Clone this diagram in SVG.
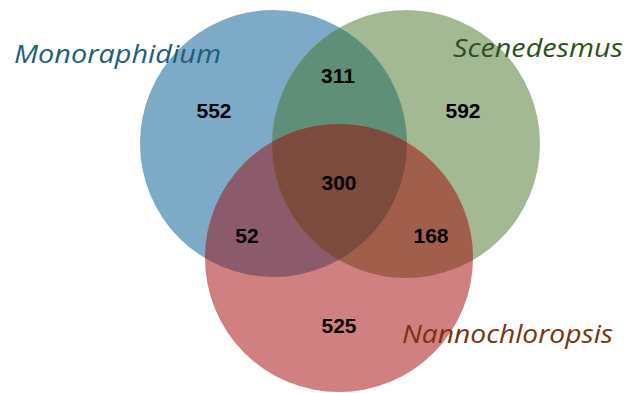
<svg xmlns="http://www.w3.org/2000/svg" width="627" height="393" viewBox="0 0 627 393">
<style>
.lbl{font-family:"Open Sans","Noto Sans",sans-serif;font-style:italic;font-size:25px}
.num{font-family:"Liberation Sans",Arial,sans-serif;font-weight:bold;font-size:21px;fill:#000;text-anchor:middle}
</style>
<defs>
<clipPath id="cB"><circle cx="273.5" cy="143.5" r="133.5"/></clipPath>
<clipPath id="cG"><circle cx="406" cy="144" r="134"/></clipPath>
</defs>
<rect width="627" height="393" fill="#fff"/>
<g id="monoraphidium">
<circle cx="273.5" cy="143.5" r="133.5" fill="#7DABC7"/>
</g>
<g id="scenedesmus">
<circle cx="406" cy="144" r="134" fill="#A3B993"/>
<circle cx="406" cy="144" r="134" fill="#608F77" clip-path="url(#cB)"/>
</g>
<g id="nannochloropsis">
<circle cx="339" cy="258" r="134" fill="#D08080"/>
<circle cx="339" cy="258" r="134" fill="#8B5A6B" clip-path="url(#cB)"/>
<circle cx="339" cy="258" r="134" fill="#A15F4B" clip-path="url(#cG)"/>
<g clip-path="url(#cG)"><circle cx="339" cy="258" r="134" fill="#7D4A3E" clip-path="url(#cB)"/></g>
</g>
<g id="labels">
<text class="lbl" x="14" y="63" fill="#1F5E77" textLength="207" lengthAdjust="spacingAndGlyphs">Monoraphidium</text>
<text class="lbl" x="453" y="57" fill="#2F501D" textLength="170" lengthAdjust="spacingAndGlyphs">Scenedesmus</text>
<text class="lbl" x="402" y="343" fill="#7A330C" textLength="211" lengthAdjust="spacingAndGlyphs">Nannochloropsis</text>
</g>
<g id="counts">
<text class="num" x="214" y="118">552</text>
<text class="num" x="338" y="83">311</text>
<text class="num" x="463" y="118">592</text>
<text class="num" x="339" y="190">300</text>
<text class="num" x="247" y="243">52</text>
<text class="num" x="431" y="243">168</text>
<text class="num" x="339" y="333">525</text>
</g>
</svg>
